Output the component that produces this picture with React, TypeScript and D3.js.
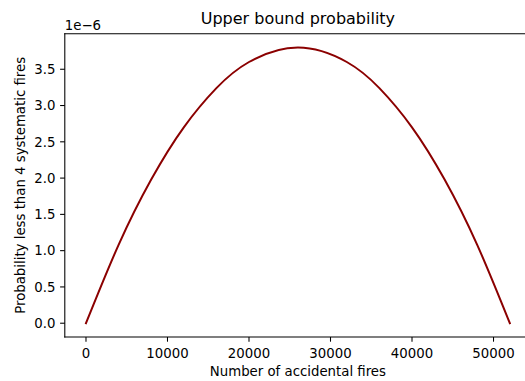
import React from "react";
import * as d3 from "d3";

// Accidental fire counts and the matching upper-bound probability (units of 1e-6)
const accidentalFires = [0, 4000, 8000, 12000, 16000, 20000, 26000, 32000, 36000, 40000, 44000, 48000, 52000];
const probabilityE6 = [0, 1.08, 1.98, 2.70, 3.24, 3.60, 3.80, 3.60, 3.24, 2.70, 1.98, 1.08, 0];
const xTicks = [0, 10000, 20000, 30000, 40000, 50000];
const yTicks = [0, 0.5, 1.0, 1.5, 2.0, 2.5, 3.0, 3.5];

const W = 525;
const H = 381;
const left = 64.8;
const right = 531;
const top = 33.7;
const bottom = 337;
const font = "'DejaVu Sans', sans-serif";

export default function App() {
  const x = d3.scaleLinear().domain([-2600, 54600]).range([left, right]);
  const y = d3.scaleLinear().domain([-0.19, 3.99]).range([bottom, top]);
  const pts = accidentalFires.map((v, i) => [v, probabilityE6[i]] as [number, number]);
  const line = d3
    .line<[number, number]>()
    .x((d) => x(d[0]))
    .y((d) => y(d[1]))
    .curve(d3.curveNatural);

  return (
    <svg width={W} height={H} style={{ position: "absolute", left: 0, top: 0, background: "#fff" }} fontFamily={font}>
      <rect x={0} y={0} width={W} height={H} fill="#fff" />
      <path d={line(pts) || ""} fill="none" stroke="#8b0000" strokeWidth={2} strokeLinejoin="round" strokeLinecap="square" />
      {/* spines */}
      <g stroke="#000" strokeWidth={1.07} fill="none">
        <line x1={left} x2={left} y1={top} y2={bottom} strokeLinecap="square" />
        <line x1={left} x2={right} y1={bottom} y2={bottom} strokeLinecap="square" />
        <line x1={left} x2={right} y1={top} y2={top} strokeLinecap="square" />
        <line x1={right} x2={right} y1={top} y2={bottom} />
      </g>
      {xTicks.map((t) => (
        <g key={"x" + t}>
          <line x1={x(t)} x2={x(t)} y1={bottom} y2={bottom + 4.7} stroke="#000" strokeWidth={1.07} />
          <text x={x(t)} y={bottom + 20.5} fontSize={13.3} textAnchor="middle" fill="#000">
            {t}
          </text>
        </g>
      ))}
      {yTicks.map((t) => (
        <g key={"y" + t}>
          <line x1={left} x2={left - 4.7} y1={y(t)} y2={y(t)} stroke="#000" strokeWidth={1.07} />
          <text x={left - 9.4} y={y(t) + 4.8} fontSize={13.3} textAnchor="end" fill="#000">
            {t.toFixed(1)}
          </text>
        </g>
      ))}
      <text x={left} y={29.5} fontSize={13.3} fill="#000">
        1e−6
      </text>
      <text x={(left + right) / 2} y={23.5} fontSize={16} textAnchor="middle" fill="#000">
        Upper bound probability
      </text>
      <text x={(left + right) / 2} y={376} fontSize={13.3} textAnchor="middle" fill="#000">
        Number of accidental fires
      </text>
      <text
        transform={`translate(${25},${(top + bottom) / 2}) rotate(-90)`}
        fontSize={13.3}
        textAnchor="middle"
        fill="#000"
      >
        Probability less than 4 systematic fires
      </text>
    </svg>
  );
}
